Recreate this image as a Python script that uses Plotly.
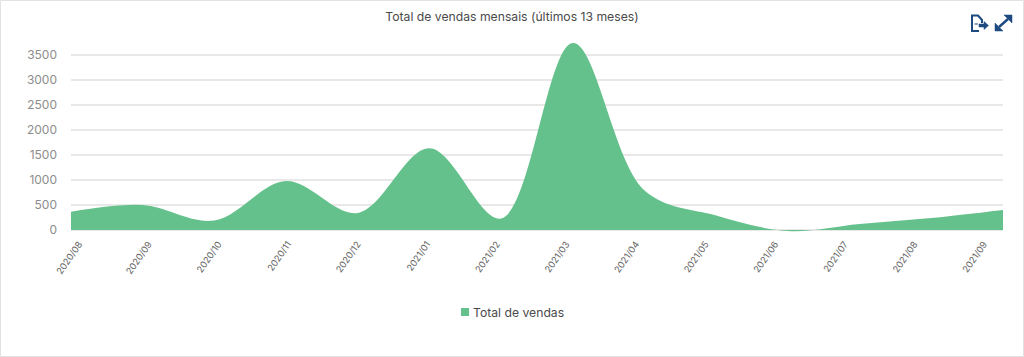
import plotly.graph_objects as go

months = ["2020/08","2020/09","2020/10","2020/11","2020/12","2021/01","2021/02",
          "2021/03","2021/04","2021/05","2021/06","2021/07","2021/08","2021/09"]
sales = [365, 500, 190, 975, 340, 1630, 230, 3730, 790, 290, -20, 120, 240, 400]
y_ticks = [0, 500, 1000, 1500, 2000, 2500, 3000, 3500]
series_name = "Total de vendas"
title_text = "Total de vendas mensais (últimos 13 meses)"

W, H = 1024, 357
L, R, T, B = 71, 21, 30, 125
GREEN = "#65c18c"
FONT = "Inter, 'Noto Sans', sans-serif"

def px(x): return (x - L) / (W - L - R)
def py(y): return (H - B - y) / (H - B - T)

fig = go.Figure()
fig.add_trace(go.Scatter(x=months, y=sales, mode="lines", line=dict(shape="spline", smoothing=1.0, width=0, color=GREEN),
                         fill="tozeroy", fillcolor=GREEN, showlegend=False, hoverinfo="x+y"))
fig.add_trace(go.Scatter(x=[None], y=[None], mode="markers", name=series_name,
                         marker=dict(symbol="square", size=8, color=GREEN)))
# carrier for the tick labels, which sit on a slightly tighter spacing than the data
fig.add_trace(go.Scatter(x=months, y=sales, xaxis="x2", mode="lines", line=dict(width=0), opacity=0,
                         showlegend=False, hoverinfo="skip"))

ICON = "#1d4a80"
def path(points, close=True):
    return "M " + " L ".join(f"{px(a):.5f} {py(b):.5f}" for a, b in points) + (" Z" if close else "")

def line_shape(points, width):
    return dict(type="path", xref="paper", yref="paper", path=path(points, False), line=dict(color=ICON, width=width))

def fill_shape(points):
    return dict(type="path", xref="paper", yref="paper", path=path(points), line=dict(color=ICON, width=0.5), fillcolor=ICON)

shapes = [
    dict(type="rect", xref="paper", yref="paper", x0=px(0.5), x1=px(1023.5), y0=py(0.5), y1=py(356.5),
         line=dict(color="#e2e2e2", width=1), layer="below"),
    line_shape([(979, 31), (972, 31), (972, 15.5), (978, 15.5), (982, 20), (982, 23)], 2),
    fill_shape([(979, 24), (984, 24), (984, 21.5), (988.5, 25.5), (984, 29.5), (984, 27), (979, 27)]),
    line_shape([(974.5, 24), (978, 24)], 1),
    line_shape([(999, 27), (1008, 19)], 2.4),
    fill_shape([(1004, 15), (1012, 15), (1012, 23)]),
    fill_shape([(995, 23), (995, 31), (1003, 31)]),
]

LABEL_STEP = 69.6
LABEL_FIRST = 79
x2_start = -(LABEL_FIRST - L) / LABEL_STEP
x2_end = x2_start + (W - L - R) / LABEL_STEP

fig.update_layout(
    width=W, height=H,
    margin=dict(l=L, r=R, t=T, b=B, pad=0),
    paper_bgcolor="white", plot_bgcolor="white",
    font=dict(family=FONT, color="#666"),
    title=dict(text=title_text, x=512/W, xanchor="center", y=1-17/H, yanchor="middle",
               font=dict(family=FONT, size=12.2, color="#4a4a4a")),
    xaxis=dict(type="category", range=[0, 13], showgrid=False, showline=False, zeroline=False,
               ticks="", showticklabels=False),
    xaxis2=dict(type="category", overlaying="x", side="bottom", categoryorder="array", categoryarray=months,
                tickmode="array", tickvals=months, ticktext=months, tickangle=-55,
                range=[x2_start, x2_end], showgrid=False, showline=False, zeroline=False, ticks="",
                ticklabelstandoff=4, tickfont=dict(size=9.2, color="#666")),
    yaxis=dict(range=[-40, 3989], tickmode="array", tickvals=y_ticks, showgrid=True, gridcolor="#e8e8e8", gridwidth=1.5,
               zeroline=False, showline=False, ticks="", ticklabelstandoff=13, tickfont=dict(size=12, color="#8c8c8c")),
    legend=dict(orientation="h", x=473/W, xanchor="center", y=py(312), yanchor="middle",
                font=dict(size=12.2, color="#4a4a4a"), bgcolor="rgba(0,0,0,0)"),
    shapes=shapes,
)

post = """
document.body.style.margin='0';
document.querySelectorAll('.legendpoints').forEach(function(p){
  p.setAttribute('transform', 'translate(12,0) ' + (p.getAttribute('transform') || ''));
});
"""
fig.write_html("out.html", config=dict(displayModeBar=False), post_script=post)
